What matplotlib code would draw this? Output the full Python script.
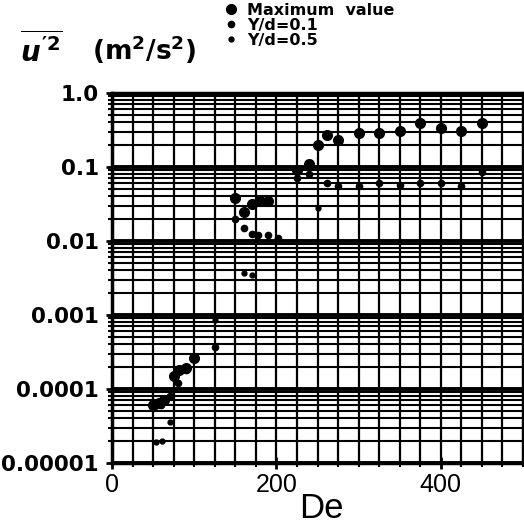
import numpy as np
import matplotlib
matplotlib.use("Agg")
import matplotlib.pyplot as plt
from matplotlib.ticker import FixedLocator, NullFormatter

plt.rcParams['font.family'] = ['Liberation Sans', 'DejaVu Sans']
plt.rcParams['mathtext.fontset'] = 'custom'
plt.rcParams['mathtext.it'] = 'DejaVu Sans:italic:bold'
plt.rcParams['mathtext.rm'] = 'DejaVu Sans:bold'
plt.rcParams['mathtext.bf'] = 'DejaVu Sans:bold'

# data
de_max = [50, 57, 63, 75, 82, 90, 100, 150, 160, 170, 180, 190,
          225, 240, 250, 262, 275, 300, 325, 350, 375, 400, 425, 450]
u_max = [6e-5, 6.5e-5, 7e-5, 1.5e-4, 1.8e-4, 1.9e-4, 2.6e-4, 0.038, 0.025, 0.032, 0.035, 0.035,
         0.09, 0.11, 0.2, 0.27, 0.23, 0.29, 0.29, 0.31, 0.39, 0.34, 0.31, 0.39]

de_01 = [50, 55, 60, 65, 70, 80, 90, 125, 150, 160, 170, 178, 190, 202,
         225, 240, 262, 275, 300, 325, 350, 375, 400, 425, 450]
u_01 = [5.5e-5, 6e-5, 6e-5, 7e-5, 8e-5, 1.2e-4, 1.8e-4, 3.7e-4, 0.02, 0.015, 0.0125, 0.012, 0.012, 0.011,
        0.07, 0.08, 0.061, 0.055, 0.055, 0.061, 0.058, 0.06, 0.06, 0.055, 0.085]

de_05 = [53, 61, 70, 125, 160, 170, 250]
u_05 = [1.9e-5, 2e-5, 3.6e-5, 8.5e-4, 0.0037, 0.0035, 0.028]

y_ticks = [1.0, 0.1, 0.01, 0.001, 0.0001, 0.00001]
y_labels = ['1.0', '0.1', '0.01', '0.001', '0.0001', '0.00001']
x_labels = ['0', '200', '400']

fig = plt.figure(figsize=(5.24, 5.26), dpi=100)
ax = fig.add_axes([112/524, 63/526, 411/524, 370/526])

ax.set_yscale('log')
ax.set_xlim(0, 500)
ax.set_ylim(1e-5, 1.0)

# log paper grid
minor_y = [k * 10.0**n for n in range(-5, 0) for k in range(2, 10)]
for v in minor_y:
    ax.axhline(v, color='black', lw=1.5, zorder=1)
for v in y_ticks:
    ax.axhline(v, color='black', lw=2.8, zorder=1)
for x in range(25, 501, 25):
    ax.axvline(x, color='black', lw=1.6, zorder=1)

ax.plot(de_max, u_max, 'o', color='black', ms=7, zorder=3, label='Maximum  value')
ax.plot(de_01, u_01, 'o', color='black', ms=4.5, zorder=3, label='Y/d=0.1')
ax.plot(de_05, u_05, 'o', color='black', ms=3.5, zorder=3, label='Y/d=0.5')

ax.yaxis.set_major_locator(FixedLocator(y_ticks))
ax.set_yticklabels(y_labels, fontsize=15.5, fontweight='bold', family='DejaVu Sans')
ax.yaxis.set_minor_locator(FixedLocator(minor_y))
ax.yaxis.set_minor_formatter(NullFormatter())

ax.xaxis.set_major_locator(FixedLocator([0, 200, 400]))
ax.set_xticklabels(x_labels, fontsize=18)
ax.xaxis.set_minor_locator(FixedLocator(list(range(25, 501, 25))))

ax.tick_params(axis='both', which='major', direction='inout', length=9, width=2, pad=3)
ax.tick_params(axis='both', which='minor', direction='inout', length=6, width=1.5)
ax.tick_params(axis='y', which='major', pad=5)

for s in ['left', 'bottom', 'top']:
    ax.spines[s].set_linewidth(2.5)
ax.spines['right'].set_linewidth(1.6)

fig.text(321/524, 1 - 509/526, 'De', fontsize=25, ha='center', va='center')

fig.text(20/524, 1 - 50/526, r'$\overline{u^{\prime 2}}$', fontsize=20, va='center')
fig.text(92/524, 1 - 50/526, r'$\mathbf{(m^2/s^2)}$', fontsize=19, va='center')

fig.legend(loc='upper left', bbox_to_anchor=(223/524, 1 - 3/526), frameon=False,
           prop={'size': 11.5, 'weight': 'bold', 'family': 'DejaVu Sans'},
           handletextpad=0.5, labelspacing=0.0, handlelength=1.0,
           borderpad=0, borderaxespad=0)

fig.savefig('out.png', dpi=100)
